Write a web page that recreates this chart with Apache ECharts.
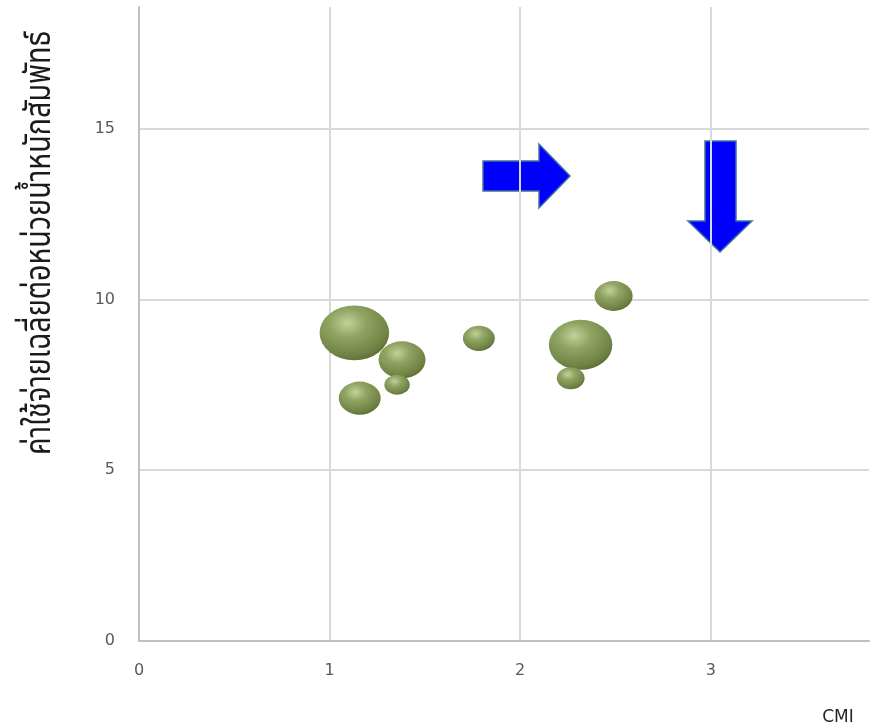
<!DOCTYPE html>
<html>
<head>
<meta charset="utf-8">
<script src="https://cdn.jsdelivr.net/npm/echarts@6/dist/echarts.min.js"></script>
<style>html,body{margin:0;padding:0;background:#fff}#c{width:876px;height:728px}</style>
</head>
<body>
<div id="c"></div>
<script>
// Data
const cmi = [1.13, 1.38, 1.354, 1.158, 1.783, 2.317, 2.265, 2.49];
const costPerRW = [9.02, 8.23, 7.50, 7.11, 8.86, 8.67, 7.69, 10.10];
const bubbleSize = [30, 13.7, 4, 10.9, 6.3, 25, 4.8, 9];
const xTicks = [0, 1, 2, 3];
const yTicks = [0, 5, 10, 15];
const xAxisTitle = 'CMI';
const yAxisTitle = 'ค่าใช้จ่ายเฉลี่ยต่อหน่วยน้ำหนักสัมพัทธ์';

const points = cmi.map((x, i) => [x, costPerRW[i], bubbleSize[i]]);

const chart = echarts.init(document.getElementById('c'), null, {renderer: 'canvas'});
const labelFont = 'Verdana, "DejaVu Sans", sans-serif';
const thaiFont = '"Noto Sans Thai", "Noto Sans Thai UI", Loma, Garuda, "Tlwg Typo", "DejaVu Sans Condensed", sans-serif';

chart.setOption({
  animation: false,
  backgroundColor: '#ffffff',
  grid: {left: 139, top: 7, right: 7, bottom: 87, containLabel: false},
  xAxis: {
    type: 'value', min: 0, max: 3.83, interval: 1,
    axisLine: {show: true, lineStyle: {color: '#bfbfbf', width: 2}},
    axisTick: {show: false},
    splitLine: {show: true, showMaxLine: false, lineStyle: {color: '#d9d9d9', width: 2}},
    axisLabel: {
      color: '#595959', fontSize: 16, fontFamily: labelFont, margin: 22,
      showMaxLabel: false,
      formatter: v => xTicks.includes(v) ? String(v) : ''
    }
  },
  yAxis: {
    type: 'value', min: 0, max: 18.56, interval: 5,
    axisLine: {show: true, lineStyle: {color: '#bfbfbf', width: 2}},
    axisTick: {show: false},
    splitLine: {show: true, showMaxLine: false, lineStyle: {color: '#d9d9d9', width: 2}},
    axisLabel: {
      color: '#595959', fontSize: 16, fontFamily: labelFont, margin: 24,
      showMaxLabel: false,
      formatter: v => yTicks.includes(v) ? String(v) : ''
    }
  },
  series: [{
    type: 'scatter',
    data: points,
    symbol: 'circle',
    symbolSize: d => { const h = 10 * Math.sqrt(d[2]); return [h * 1.27, h]; },
    itemStyle: {
      color: {
        type: 'radial', x: 0.4, y: 0.32, r: 0.75,
        colorStops: [
          {offset: 0, color: '#c3d19a'},
          {offset: 0.35, color: '#90a462'},
          {offset: 0.8, color: '#6f8244'},
          {offset: 1, color: '#56652f'}
        ]
      },
      opacity: 1
    }
  }],
  graphic: [
    {
      type: 'text', x: 43, y: 243, rotation: Math.PI / 2, scaleX: 0.82,
      style: {
        text: yAxisTitle, fill: '#1a1a1a', font: '35px ' + thaiFont,
        align: 'center', verticalAlign: 'middle'
      }
    },
    {
      type: 'text', x: 838, y: 718,
      style: {
        text: xAxisTitle, fill: '#262626', font: '17px ' + labelFont,
        align: 'center', verticalAlign: 'middle'
      }
    },
    {
      type: 'polygon',
      shape: {points: [[483, 161], [539, 161], [539, 144], [570, 176], [539, 208], [539, 191], [483, 191]]},
      style: {fill: '#0000ff', stroke: '#41719c', lineWidth: 1.5}
    },
    {
      type: 'polygon',
      shape: {points: [[705, 141], [736, 141], [736, 221], [752, 221], [720, 252], [688, 221], [705, 221]]},
      style: {fill: '#0000ff', stroke: '#41719c', lineWidth: 1.5}
    }
  ]
});
</script>
</body>
</html>
